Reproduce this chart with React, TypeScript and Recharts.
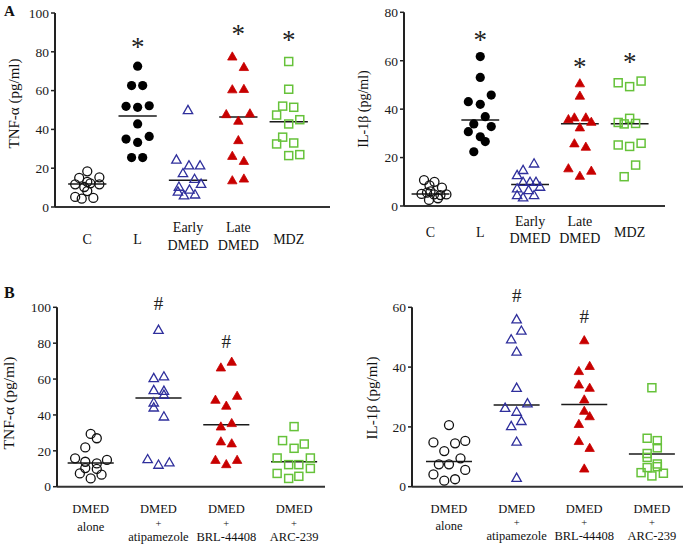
import React from "react";
import { ReferenceDot, ReferenceLine, Scatter, ScatterChart, XAxis, YAxis } from "recharts";

const FONT = "'Liberation Serif', 'Times New Roman', serif";
const BLUE = "#2f2f9c";
const RED = "#c80000";
const GREEN = "#66c23a";

// points are [value, jitter (fraction of a category step)]
// Panel A, TNF-α (pg/ml)
const A_CATS = [["C"], ["L"], ["Early", "DMED"], ["Late", "DMED"], ["MDZ"]];
const A_TNF_C = [[18.4, 0], [15, -0.16], [15.3, 0.24], [13, 0], [11.7, -0.24], [11.7, 0.24], [12.2, 0.06], [10.3, -0.06], [8.2, 0], [5.2, -0.24], [4.3, -0.11], [4.7, 0.12]];
const A_TNF_L = [[72.6, 0], [62.6, -0.12], [62.6, 0.1], [51.9, -0.23], [51.4, 0], [52.2, 0.23], [42.8, 0], [35, -0.23], [33.3, 0], [36.4, 0.23], [25.5, -0.12], [25.5, 0.1]];
const A_TNF_EARLY = [[50, 0], [24.5, -0.23], [21.5, 0.02], [21.5, 0.24], [17.5, -0.1], [14.5, 0.13], [12, 0.26], [10.5, -0.18], [8, -0.2], [9, 0.03], [6, -0.08], [6.5, 0.14]];
const A_TNF_LATE = [[77.6, -0.12], [72.2, 0.11], [60.7, -0.12], [60.9, 0.11], [47.9, -0.24], [48.3, 0.23], [44.5, 0], [34.5, 0], [26.4, -0.12], [23.8, 0.11], [13.8, -0.12], [14.7, 0.11]];
const A_TNF_MDZ = [[75, 0], [60.7, 0], [52, -0.12], [51.4, 0.1], [47.4, -0.24], [45, 0.22], [42.8, 0], [36, -0.12], [32.5, -0.24], [33, 0.1], [26.5, 0], [27, 0.22]];
const A_TNF_MED = [11.8, 46.9, 13.8, 46.4, 44];
const A_TNF_STAR = [null, 85.3, null, 91.9, 88.5];

// Panel A, IL-1β (pg/ml)
const A_IL_C = [[10.7, -0.13], [10, 0.08], [8.5, -0.02], [7.6, 0.23], [5, -0.18], [5.5, -0.07], [4.8, 0.07], [4.5, 0.2], [4.8, 0.32], [2.5, -0.03], [3.2, 0.15], [6, 0]];
const A_IL_L = [[61.7, 0], [53.1, 0], [45.8, 0.22], [43.1, -0.24], [42, 0], [36.9, 0.1], [33.9, -0.13], [32.8, 0.22], [30.7, -0.24], [28.6, 0], [26.6, 0.1], [22.4, -0.13]];
const A_IL_EARLY = [[17.6, 0.08], [14.9, -0.14], [12.8, -0.26], [10, -0.14], [10, 0], [10, 0.12], [8, 0.2], [7.3, -0.26], [6.6, -0.03], [4.5, -0.26], [3.6, -0.14], [4.5, 0.08]];
const A_IL_LATE = [[50.7, 0], [45.6, 0], [35.9, -0.23], [36.6, -0.11], [36.6, 0.12], [34.8, 0.23], [32.5, 0], [25.9, -0.11], [24.5, 0.12], [15.6, -0.23], [12.5, 0], [14.6, 0.23]];
const A_IL_MDZ = [[50.9, -0.23], [49.3, 0], [51.6, 0.23], [34.5, -0.23], [33.9, -0.11], [36.2, 0], [34.1, 0.12], [25.2, -0.23], [24.6, 0], [25.9, 0.23], [16.9, 0.12], [12.1, -0.11]];
const A_IL_MED = [5, 35.5, 8.9, 34, 34];
const A_IL_STAR = [null, 70.6, null, 59.6, 61.4];

// Panel B, TNF-α (pg/ml)
const B_CATS = [["DMED", "alone"], ["DMED", "+", "atipamezole"], ["DMED", "+", "BRL-44408"], ["DMED", "+", "ARC-239"]];
const B_TNF_ALONE = [[29.4, 0], [27, 0.09], [21.9, -0.08], [15.8, -0.23], [14.9, 0.24], [13.9, -0.08], [13, 0.09], [10.4, -0.08], [9.9, 0.09], [7.4, -0.16], [6.7, 0.16], [4.6, 0]];
const B_TNF_ATI = [[87.5, 0], [60.6, -0.07], [61.5, 0.08], [53.9, -0.07], [53.5, 0.08], [51.3, 0.08], [47, -0.07], [44.2, -0.07], [39.2, 0.08], [15.4, -0.16], [12.3, 0], [13.6, 0.16]];
const B_TNF_BRL = [[66.5, -0.08], [69.7, 0.08], [48.5, -0.16], [50.7, 0.16], [45.2, 0], [33.6, -0.08], [35.5, 0.08], [25.3, -0.08], [24.2, 0.08], [15, -0.16], [12.6, 0], [15, 0.16]];
const B_TNF_ARC = [[33.5, 0], [25.7, -0.17], [21.4, 0], [23.8, 0.15], [16, -0.25], [16, 0.24], [12.3, -0.08], [12.3, 0.07], [10.2, 0.24], [7.4, -0.25], [4.6, -0.08], [5.8, 0.07]];
const B_TNF_MED = [13.2, 49.4, 34.6, 13.9];
const B_TNF_HASH = [null, 102, 81, null];

// Panel B, IL-1β (pg/ml)
const B_IL_ALONE = [[20.6, 0], [14.8, -0.23], [14.5, 0.09], [15.3, 0.24], [11.9, -0.07], [9.5, 0.17], [7.5, -0.15], [7.5, 0], [4.1, -0.23], [5.6, 0.24], [2, -0.07], [2.5, 0.09]];
const B_IL_ATI = [[56, 0], [52.2, 0.07], [49.3, -0.08], [45.2, 0], [33.1, 0], [26.4, -0.17], [27.9, 0.16], [25.1, 0], [20.3, -0.08], [22, 0.07], [15.1, 0], [3, 0]];
const B_IL_BRL = [[49, 0], [40.4, 0.08], [38.7, -0.08], [34.2, -0.08], [33.1, 0.08], [29.2, 0], [25.4, 0], [23.6, 0.08], [21, -0.08], [15.3, -0.08], [13, 0.08], [6.1, 0]];
const B_IL_ARC = [[33.1, 0], [16.2, -0.07], [15.4, 0.08], [13, 0.08], [11.1, -0.07], [9.8, -0.07], [7.6, 0.08], [6.4, -0.07], [6.7, 0.08], [4.7, -0.16], [3.6, 0], [4.5, 0.17]];
const B_IL_MED = [8.4, 27.3, 27.5, 10.9];
const B_IL_HASH = [null, 64.1, 56.9, null];

function Marker({ cx, cy, kind }: { cx: number; cy: number; kind: string }) {
  if (cx == null || cy == null) return null;
  const t = `${cx},${cy - 4.6} ${cx - 4.7},${cy + 3.6} ${cx + 4.7},${cy + 3.6}`;
  switch (kind) {
    case "openCircle":
      return <circle cx={cx} cy={cy} r={4.5} fill="none" stroke="#111" strokeWidth={1.3} />;
    case "filledCircle":
      return <circle cx={cx} cy={cy} r={4.6} fill="#000" />;
    case "openTriangle":
      return <polygon points={t} fill="none" stroke={BLUE} strokeWidth={1.3} />;
    case "filledTriangle":
      return <polygon points={t} fill={RED} stroke={RED} strokeWidth={0.8} />;
    default:
      return <rect x={cx - 4} y={cy - 4} width={8} height={8} fill="none" stroke={GREEN} strokeWidth={1.5} />;
  }
}

function CatTick(props: any) {
  const { x, y, payload, cats, offs, fontSize } = props;
  const lines: string[] | undefined = cats[Math.round(payload.value)];
  if (!lines) return null;
  const ys: number[] = offs[lines.length - 1];
  return (
    <g>
      {lines.map((s, i) => (
        <text
          key={i}
          x={x}
          y={y + ys[i]}
          textAnchor="middle"
          fontFamily={FONT}
          fontSize={s === "+" ? fontSize - 2 : fontSize}
          fill="#111"
        >
          {s}
        </text>
      ))}
    </g>
  );
}

type Panel = {
  left: number;
  top: number;
  width: number;
  height: number;
  plotLeft: number;
  plotRight: number;
  plotTop: number;
  plotBottom: number;
  xDomain: [number, number];
  yMax: number;
  yTicks: number[];
  cats: string[][];
  offs: number[][];
  catFont: number;
  groups: number[][][];
  kinds: string[];
  medians: number[];
  medHalf: number;
  marks: (number | null)[];
  markChar: string;
};

const PANELS: Panel[] = [
  {
    left: 0, top: 0, width: 340, height: 280, plotLeft: 55, plotRight: 330, plotTop: 13, plotBottom: 207,
    xDomain: [-0.641, 4.82], yMax: 100, yTicks: [0, 20, 40, 60, 80, 100],
    cats: A_CATS, offs: [[36.5], [25, 42.5]], catFont: 14,
    groups: [A_TNF_C, A_TNF_L, A_TNF_EARLY, A_TNF_LATE, A_TNF_MDZ],
    kinds: ["openCircle", "filledCircle", "openTriangle", "filledTriangle", "openSquare"],
    medians: A_TNF_MED, medHalf: 0.38, marks: A_TNF_STAR, markChar: "*",
  },
  {
    left: 340, top: 0, width: 345, height: 280, plotLeft: 64, plotRight: 325, plotTop: 12.3, plotBottom: 206,
    xDomain: [-0.532, 4.71], yMax: 80, yTicks: [0, 20, 40, 60, 80],
    cats: A_CATS, offs: [[31], [20, 36.5]], catFont: 14,
    groups: [A_IL_C, A_IL_L, A_IL_EARLY, A_IL_LATE, A_IL_MDZ],
    kinds: ["openCircle", "filledCircle", "openTriangle", "filledTriangle", "openSquare"],
    medians: A_IL_MED, medHalf: 0.38, marks: A_IL_STAR, markChar: "*",
  },
  {
    left: 0, top: 280, width: 340, height: 265, plotLeft: 57, plotRight: 325, plotTop: 27.3, plotBottom: 206.7,
    xDomain: [-0.497, 3.456], yMax: 100, yTicks: [0, 20, 40, 60, 80, 100],
    cats: B_CATS, offs: [[26.5], [26, 44], [26, 40, 54]], catFont: 12.5,
    groups: [B_TNF_ALONE, B_TNF_ATI, B_TNF_BRL, B_TNF_ARC],
    kinds: ["openCircle", "openTriangle", "filledTriangle", "openSquare"],
    medians: B_TNF_MED, medHalf: 0.34, marks: B_TNF_HASH, markChar: "#",
  },
  {
    left: 340, top: 280, width: 345, height: 265, plotLeft: 72, plotRight: 343, plotTop: 27.3, plotBottom: 206.7,
    xDomain: [-0.547, 3.46], yMax: 60, yTicks: [0, 20, 40, 60],
    cats: B_CATS, offs: [[26.5], [26, 43.5], [26, 39.5, 53.5]], catFont: 12.5,
    groups: [B_IL_ALONE, B_IL_ATI, B_IL_BRL, B_IL_ARC],
    kinds: ["openCircle", "openTriangle", "filledTriangle", "openSquare"],
    medians: B_IL_MED, medHalf: 0.34, marks: B_IL_HASH, markChar: "#",
  },
];

const X_AXIS_H = 40;

function DotPanel({ p }: { p: Panel }) {
  const markSize = p.markChar === "*" ? 27 : 19;
  const markShift = p.markChar === "*" ? 0.52 : 0.34;
  return (
    <div style={{ position: "absolute", left: p.left, top: p.top }}>
      <ScatterChart
        width={p.width}
        height={p.height}
        margin={{ top: p.plotTop, right: p.width - p.plotRight, left: 0, bottom: p.height - p.plotBottom - X_AXIS_H }}
      >
        <XAxis
          type="number"
          dataKey="x"
          domain={p.xDomain}
          ticks={p.cats.map((_, i) => i)}
          interval={0}
          height={X_AXIS_H}
          tickLine={false}
          tickSize={0}
          tickMargin={0}
          axisLine={{ stroke: "#333", strokeWidth: 2 }}
          tick={<CatTick cats={p.cats} offs={p.offs} fontSize={p.catFont} />}
        />
        <YAxis
          type="number"
          dataKey="y"
          domain={[0, p.yMax]}
          ticks={p.yTicks}
          interval={0}
          width={p.plotLeft}
          tickSize={4}
          tickMargin={2}
          axisLine={{ stroke: "#222", strokeWidth: 2 }}
          tickLine={{ stroke: "#222", strokeWidth: 1.5 }}
          tick={{ fontSize: 13.5, fill: "#1a1a1a", fontFamily: FONT }}
        />
        {p.groups.map((pts, i) => (
          <Scatter
            key={i}
            data={pts.map(([v, j]) => ({ x: i + j, y: v }))}
            isAnimationActive={false}
            shape={(s: any) => <Marker cx={s.cx} cy={s.cy} kind={p.kinds[i]} />}
          />
        ))}
        {p.medians.map((m, i) => (
          <ReferenceLine
            key={`m${i}`}
            segment={[{ x: i - p.medHalf, y: m }, { x: i + p.medHalf, y: m }]}
            stroke="#1a1a1a"
            strokeWidth={1.5}
            ifOverflow="visible"
          />
        ))}
        {p.marks.map((v, i) =>
          v == null ? null : (
            <ReferenceDot
              key={`s${i}`}
              x={i}
              y={v}
              ifOverflow="visible"
              shape={(s: any) => (
                <text
                  x={s.cx}
                  y={s.cy + markSize * markShift}
                  textAnchor="middle"
                  fontFamily={FONT}
                  fontSize={markSize}
                  fill="#222"
                >
                  {p.markChar}
                </text>
              )}
            />
          )
        )}
      </ScatterChart>
    </div>
  );
}

const Y_LABELS = [
  { text: "TNF-α (pg/ml)", x: 13.5, y: 103.5, size: 15 },
  { text: "IL-1β (pg/ml)", x: 363, y: 109, size: 14 },
  { text: "TNF-α (pg/ml)", x: 8.5, y: 403, size: 15.5 },
  { text: "IL-1β (pg/ml)", x: 372, y: 398, size: 15 },
];

export default function App() {
  return (
    <div style={{ position: "absolute", left: 0, top: 0, width: 685, height: 545, background: "#fff", fontFamily: FONT }}>
      {PANELS.map((p, i) => (
        <DotPanel key={i} p={p} />
      ))}
      <svg width={685} height={545} style={{ position: "absolute", left: 0, top: 0, pointerEvents: "none" }}>
        <text x={4} y={15.5} fontFamily={FONT} fontSize={15} fontWeight="bold" fill="#111">A</text>
        <text x={4} y={298} fontFamily={FONT} fontSize={16} fontWeight="bold" fill="#111">B</text>
        {Y_LABELS.map((l, i) => (
          <text
            key={i}
            transform={`translate(${l.x},${l.y}) rotate(-90)`}
            textAnchor="middle"
            dominantBaseline="central"
            fontFamily={FONT}
            fontSize={l.size}
            fill="#111"
          >
            {l.text}
          </text>
        ))}
      </svg>
    </div>
  );
}
